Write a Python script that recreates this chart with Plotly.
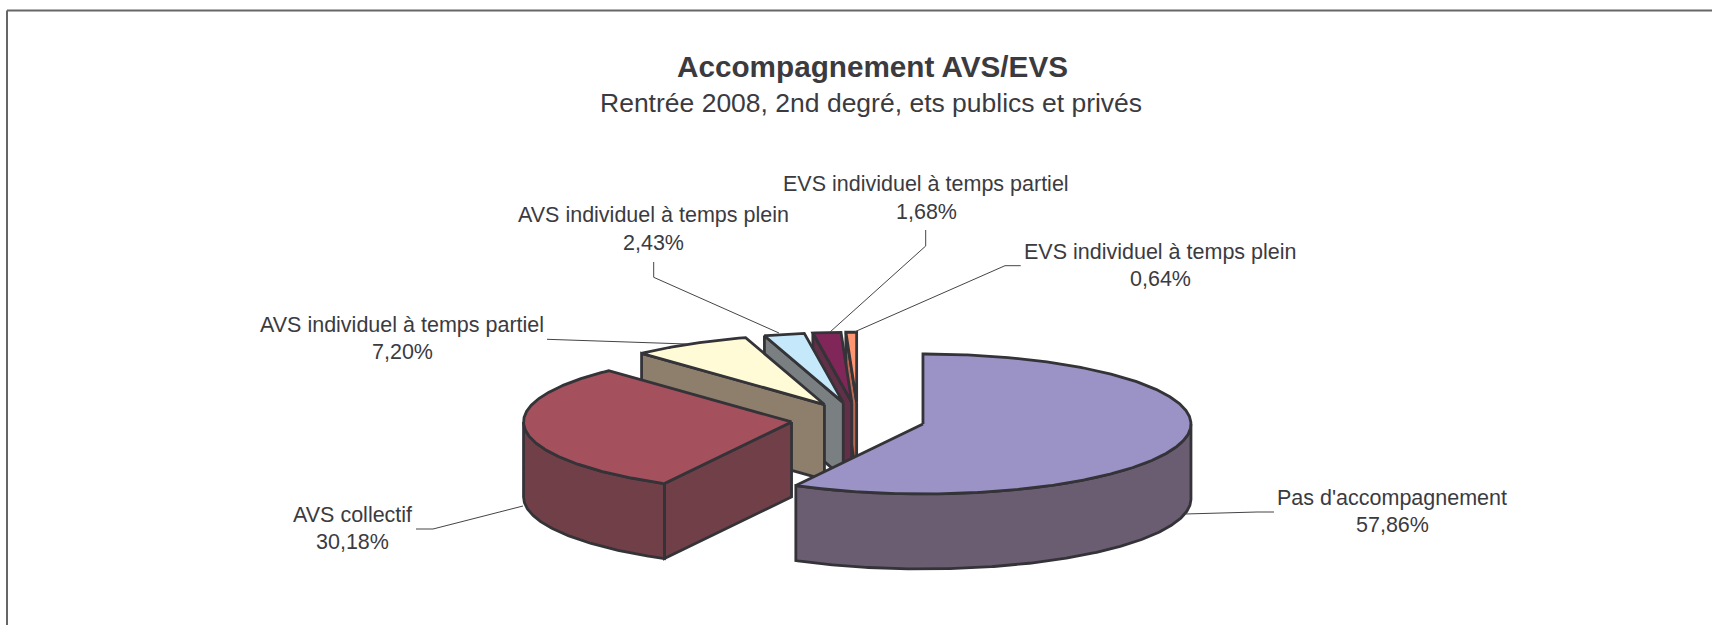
import math
import plotly.graph_objects as go

# ---- data ----
categories = ["Pas d'accompagnement", "AVS collectif", "AVS individuel à temps partiel",
              "AVS individuel à temps plein", "EVS individuel à temps partiel",
              "EVS individuel à temps plein"]
shares = [57.86, 30.18, 7.20, 2.43, 1.68, 0.64]
title_text = "Accompagnement AVS/EVS"
subtitle_text = "Rentrée 2008, 2nd degré, ets publics et privés"

# ---- styles ----
top_colors = ["#9B92C5", "#A5505D", "#FFFBD7", "#C5E9FA", "#812658", "#FF9672"]
side_colors = ["#6A5D72", "#713F47", "#8E7E6C", "#7A8082", "#612F47", "#B86A52"]
EDGE = "#333338"
TEXT = "#3B3B3F"
FONT = "Liberation Sans"

# ---- projection of the tilted pie, in page pixels ----
W, H = 1712, 625
CX, CY = 858.0, 419.7
RX, RY = 268.0, 70.0
DEPTH = 75.0
EXPLODE = 0.25


def point(apex, deg, y_shift=0.0):
    a = math.radians(deg)
    return apex[0] + RX * math.sin(a), apex[1] - RY * math.cos(a) + y_shift


def arc(apex, a0, a1, y_shift=0.0):
    n = max(2, int(abs(a1 - a0) * 2))
    return [point(apex, a0 + (a1 - a0) * i / n, y_shift) for i in range(n + 1)]


def polygon(pts, fill):
    xs = [p[0] for p in pts] + [pts[0][0]]
    ys = [p[1] for p in pts] + [pts[0][1]]
    return go.Scatter(x=xs, y=ys, mode="lines", fill="toself", fillcolor=fill,
                      line=dict(color=EDGE, width=2.8), hoverinfo="skip", showlegend=False)


total = sum(shares)
starts, ang = [], 0.0
for v in shares:
    starts.append(ang)
    ang += v / total * 360

fig = go.Figure()
for i in range(len(shares) - 1, -1, -1):
    a0 = starts[i]
    a1 = a0 + shares[i] / total * 360
    mid = math.radians((a0 + a1) / 2)
    apex = (CX + EXPLODE * RX * math.sin(mid), CY - EXPLODE * RY * math.cos(mid))
    # visible radial cut faces
    if 180 < a0 < 360:
        p = point(apex, a0)
        q = (p[0], p[1] + DEPTH)
        fig.add_trace(polygon([apex, p, q, (apex[0], apex[1] + DEPTH)], side_colors[i]))
    if 0 < a1 < 180:
        p = point(apex, a1)
        q = (p[0], p[1] + DEPTH)
        fig.add_trace(polygon([apex, p, q, (apex[0], apex[1] + DEPTH)], side_colors[i]))
    # outer wall on the front half of the ellipse
    lo, hi = max(a0, 90), min(a1, 270)
    if lo < hi:
        fig.add_trace(polygon(arc(apex, lo, hi) + arc(apex, hi, lo, DEPTH), side_colors[i]))
    # top surface
    fig.add_trace(polygon([apex] + arc(apex, a0, a1), top_colors[i]))

# ---- leader lines ----
leaders = [
    [(1274, 512), (1257, 512), (1185, 514)],
    [(416, 529), (433, 529), (523, 506)],
    [(547, 339.3), (687, 344)],
    [(653.7, 262), (653.7, 277.3), (779, 333)],
    [(925.7, 230), (925.7, 246), (830, 332)],
    [(1020.7, 265.7), (1005, 265.7), (855, 331.7)],
]
for pts in leaders:
    fig.add_trace(go.Scatter(x=[p[0] for p in pts], y=[p[1] for p in pts], mode="lines",
                             line=dict(color="#444448", width=1), hoverinfo="skip", showlegend=False))

# ---- labels ----
label_pos = [(1392, 498, 525), (352, 515, 542), (402, 325, 352),
             (653, 215, 243), (926, 184, 212), (1160, 252, 279)]
annotations = []


def add_text(text, x, y, size, bold=False):
    annotations.append(dict(text=f"<b>{text}</b>" if bold else text, x=x, y=y, xref="x", yref="y",
                            xanchor="center", yanchor="middle", showarrow=False,
                            font=dict(family=FONT, size=size, color=TEXT)))


for name, v, (x, y1, y2) in zip(categories, shares, label_pos):
    add_text(name, x, y1, 21.5)
    add_text(f"{v:.2f}".replace(".", ",") + "%", x, y2, 21.5)
add_text(title_text, 872, 66, 29.7, bold=True)
add_text(subtitle_text, 871, 103, 26.5)

frame = [
    dict(type="line", xref="x", yref="y", x0=7, x1=7, y0=10.5, y1=H, line=dict(color="#666666", width=2)),
    dict(type="line", xref="x", yref="y", x0=7, x1=W, y0=10.5, y1=10.5, line=dict(color="#666666", width=2)),
]

fig.update_layout(
    width=W, height=H, autosize=False, margin=dict(l=0, r=0, t=0, b=0),
    paper_bgcolor="white", plot_bgcolor="white", showlegend=False,
    xaxis=dict(range=[0, W], visible=False, fixedrange=True),
    yaxis=dict(range=[H, 0], visible=False, fixedrange=True),
    annotations=annotations, shapes=frame,
)
fig.write_html("out.html", config=dict(displayModeBar=False),
               post_script="document.body.style.margin='0';document.documentElement.style.overflow='hidden';")
